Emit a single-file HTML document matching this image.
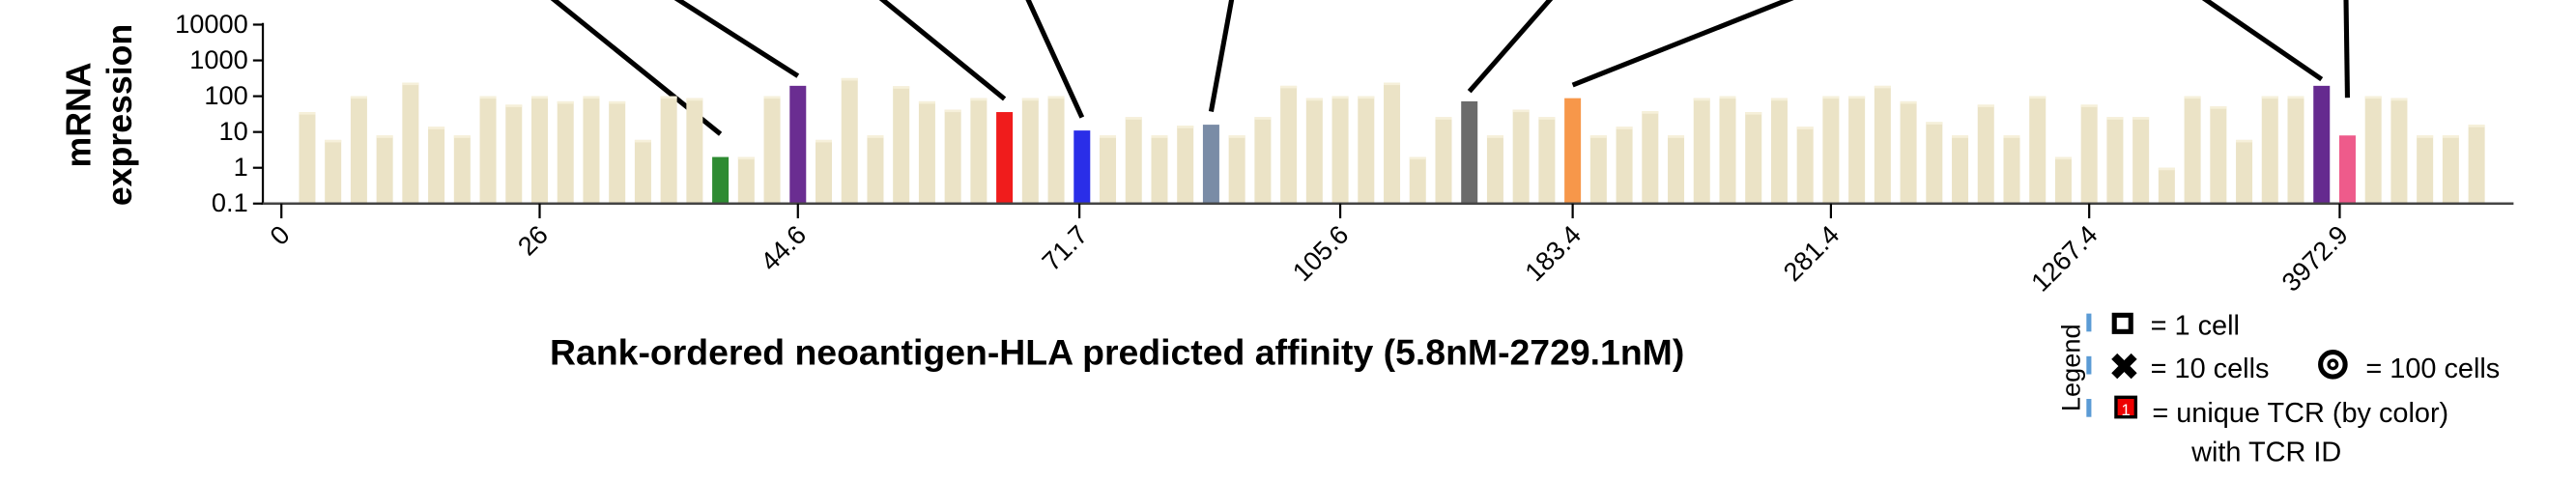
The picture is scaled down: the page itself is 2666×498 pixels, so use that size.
<!DOCTYPE html>
<html><head><meta charset="utf-8"><style>
html,body{margin:0;padding:0;background:#fff;width:2666px;height:498px;overflow:hidden}
svg{display:block}
text{font-family:"Liberation Sans",Arial,sans-serif}
</style></head><body>
<svg id="chart" width="2666" height="498" viewBox="0 0 1568 293" preserveAspectRatio="none" xmlns="http://www.w3.org/2000/svg">
<g id="leaders"></g>
<g id="bars"></g>
<g id="axes"></g>
<text transform="translate(55,70) rotate(-90)" text-anchor="middle" font-size="21" font-weight="bold">mRNA</text>
<text transform="translate(80,70) rotate(-90)" text-anchor="middle" font-size="21" font-weight="bold">expression</text>
<text x="680" y="222" text-anchor="middle" font-size="22" font-weight="bold">Rank-ordered neoantigen-HLA predicted affinity (5.8nM-2729.1nM)</text>
<g>
<text transform="translate(1266,224) rotate(-90)" text-anchor="middle" font-size="16">Legend</text>
<rect x="1270" y="191" width="3" height="11" fill="#5b9bd5"/>
<rect x="1270" y="217" width="3" height="11" fill="#5b9bd5"/>
<rect x="1270" y="243" width="3" height="11" fill="#5b9bd5"/>
<rect x="1287" y="192" width="10" height="10" fill="none" stroke="#000" stroke-width="3"/>
<text x="1309" y="204" font-size="17">= 1 cell</text>
<path d="M1287 217 L1299 229 M1299 217 L1287 229" stroke="#000" stroke-width="5"/>
<text x="1309" y="230" font-size="17">= 10 cells</text>
<circle cx="1420" cy="222" r="7.5" fill="none" stroke="#000" stroke-width="3"/>
<circle cx="1420" cy="222" r="2.5" fill="none" stroke="#000" stroke-width="2"/>
<text x="1440" y="230" font-size="17">= 100 cells</text>
<rect x="1288" y="242" width="12" height="12" fill="#e00" stroke="#000" stroke-width="2"/>
<text x="1294" y="253" font-size="10" fill="#fff" text-anchor="middle">1</text>
<text x="1310" y="257" font-size="17">= unique TCR (by color)</text>
<text x="1334" y="281" font-size="17">with TCR ID</text>
</g>
</svg>
<script>
const values=[36,6,100,8,240,14,8,100,58,100,72,100,72,6,100,88,2,2,100,195,6,320,8,190,72,42,88,36,88,100,11,8,26,8,15,16,8,26,195,88,100,100,240,2,26,72,8,42,26,88,8,14,38,8,88,100,36,88,14,100,100,195,72,19,8,58,8,100,2,58,26,26,1,100,52,6,100,100,195,8,100,88,8,8,16];
const highlightIdx=[16,19,27,30,35,45,49,78,79];
const highlightColors=["#2e8b32","#6a2d91","#f01c1c","#2a2ee8","#7a8ca6","#6b6b6b","#f7974a","#652a8f","#ee5b8b"];
const leaderStartX=[335,410,535,625,750,945,1093,1340,1428];
const leaderGap=[14,6,8,8,8,6,8,4,23];
const xTickLabels=["0","26","44.6","71.7","105.6","183.4","281.4","1267.4","3972.9"];
const xTickIdx=[-1,9,19,29.9,40,49,59,69,78.7];
const yTicks=[0.1,1,10,100,1000,10000];
const yTickLabels=["0.1","1","10","100","1000","10000"];
const NS="http://www.w3.org/2000/svg";
const X0=187,STEP=15.72,BASE=124,DEC=21.8;
function xPos(i){return X0+i*STEP;}
function yPos(v){return BASE-(Math.log10(v)+1)*DEC;}
function mk(t,a,p){const e=document.createElementNS(NS,t);for(const k in a)e.setAttribute(k,a[k]);p.appendChild(e);return e;}
const bars=document.getElementById('bars'),axes=document.getElementById('axes'),leaders=document.getElementById('leaders');
values.forEach((v,i)=>{
 const h=highlightIdx.indexOf(i);
 const r=mk('rect',{x:xPos(i)-5,y:yPos(v),width:10,height:BASE-yPos(v),fill:h>=0?highlightColors[h]:'#ebe3c6'},bars);
 
 
 if(h<0) mk('rect',{x:xPos(i)-5,y:yPos(v),width:10,height:1.5,fill:'#f6f0da'},bars);
});
highlightIdx.forEach((idx,k)=>{
 const l=mk('line',{x1:leaderStartX[k],y1:-2,x2:xPos(idx),y2:yPos(values[idx])-leaderGap[k],stroke:'#000','stroke-width':3},leaders);
 
 
});
mk('line',{x1:160,y1:14,x2:160,y2:BASE,stroke:'#000','stroke-width':1.3},axes);
mk('line',{x1:159,y1:BASE,x2:1530,y2:BASE,stroke:'#444','stroke-width':1.5},axes);
yTicks.forEach((v,i)=>{
 mk('line',{x1:154,y1:yPos(v),x2:160,y2:yPos(v),stroke:'#000','stroke-width':1.3},axes);
 const t=mk('text',{x:151,y:yPos(v)+5,'text-anchor':'end','font-size':16},axes);
 t.textContent=yTickLabels[i];
 
 
});
xTickIdx.forEach((ix,i)=>{
 const x=xPos(ix);
 mk('line',{x1:x,y1:BASE,x2:x,y2:BASE+9,stroke:'#000','stroke-width':1.3},axes);
 const t=mk('text',{x:x+6,y:BASE+20,'text-anchor':'end','font-size':16,transform:`rotate(-45 ${x+6} ${BASE+20})`},axes);
 t.textContent=xTickLabels[i];
 
 
});
</script>
</body></html>
